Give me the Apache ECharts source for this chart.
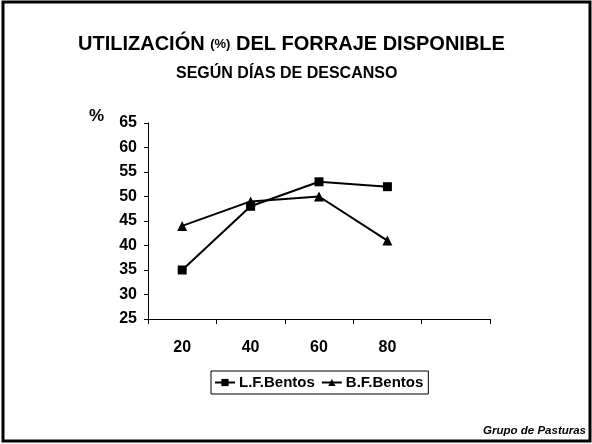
<!DOCTYPE html>
<html>
<head>
<meta charset="utf-8">
<script src="https://cdn.jsdelivr.net/npm/echarts@6/dist/echarts.min.js"></script>
<style>
  html, body { margin: 0; padding: 0; background: #fff; }
  #chart { width: 592px; height: 444px; }
</style>
</head>
<body>
<div id="chart"></div>
<script>
// days of rest (last category left empty, as in the original)
const dias = ['20', '40', '60', '80', ''];
const lfBentos = [35, 48, 53, 52];
const bfBentos = [44, 49, 50, 41];

const font = '"Liberation Sans", Arial, sans-serif';

const chart = echarts.init(document.getElementById('chart'));

const option = {
  backgroundColor: '#fff',
  animation: false,
  title: [
    {
      text: '{a|UTILIZACIÓN }{b|(%)}{a| DEL FORRAJE DISPONIBLE}',
      left: 78,
      top: 34,
      padding: 0,
      textStyle: {
        rich: {
          a: { fontFamily: font, fontWeight: 'bold', fontSize: 20, color: '#000' },
          b: { fontFamily: font, fontWeight: 'bold', fontSize: 13, color: '#000' }
        }
      }
    },
    {
      text: 'SEGÚN DÍAS DE DESCANSO',
      left: 176,
      top: 66,
      padding: 0,
      textStyle: { fontFamily: font, fontWeight: 'bold', fontSize: 16, color: '#000' }
    }
  ],
  grid: { left: 148, right: 102, top: 123, bottom: 125 },
  xAxis: {
    type: 'category',
    data: dias,
    boundaryGap: true,
    axisLine: { lineStyle: { color: '#000', width: 1 } },
    axisTick: { show: true, length: 5, inside: false, lineStyle: { color: '#000' } },
    axisLabel: { fontFamily: font, fontWeight: 'bold', fontSize: 16, color: '#000', margin: 21 },
    splitLine: { show: false }
  },
  yAxis: {
    type: 'value',
    min: 25,
    max: 65,
    interval: 5,
    name: '%',
    nameLocation: 'end',
    nameGap: -2,
    nameTextStyle: { fontFamily: font, fontWeight: 'bold', fontSize: 17, color: '#000', align: 'right', padding: [0, 44, 0, 0] },
    axisLine: { show: true, lineStyle: { color: '#000', width: 1 } },
    axisTick: { show: true, length: 4, lineStyle: { color: '#000' } },
    axisLabel: { fontFamily: font, fontWeight: 'bold', fontSize: 16, color: '#000', margin: 11 },
    splitLine: { show: false }
  },
  legend: {
    top: 371,
    left: 211,
    itemGap: 6,
    itemWidth: 20,
    itemHeight: 9,
    borderColor: '#000',
    borderWidth: 1,
    borderRadius: 0,
    padding: [4, 5, 4, 3],
    textStyle: { fontFamily: font, fontWeight: 'bold', fontSize: 15, color: '#000', padding: [0, 0, 0, -1] },
    data: ['L.F.Bentos', 'B.F.Bentos']
  },
  series: [
    {
      name: 'L.F.Bentos',
      type: 'line',
      data: lfBentos,
      symbol: 'rect',
      symbolSize: 9,
      lineStyle: { color: '#000', width: 2 },
      itemStyle: { color: '#000' }
    },
    {
      name: 'B.F.Bentos',
      type: 'line',
      data: bfBentos,
      symbol: 'triangle',
      symbolSize: 10,
      lineStyle: { color: '#000', width: 2 },
      itemStyle: { color: '#000' }
    }
  ],
  graphic: [
    {
      type: 'rect',
      shape: { x: 3, y: 2, width: 587, height: 439 },
      style: { fill: 'none', stroke: '#000', lineWidth: 3 }
    },
    {
      type: 'text',
      right: 6,
      bottom: 7,
      style: { text: 'Grupo de Pasturas', fontFamily: font, fontWeight: 'bold', fontStyle: 'italic', fontSize: 11.5, fill: '#000' }
    }
  ]
};

chart.setOption(option);
</script>
</body>
</html>
